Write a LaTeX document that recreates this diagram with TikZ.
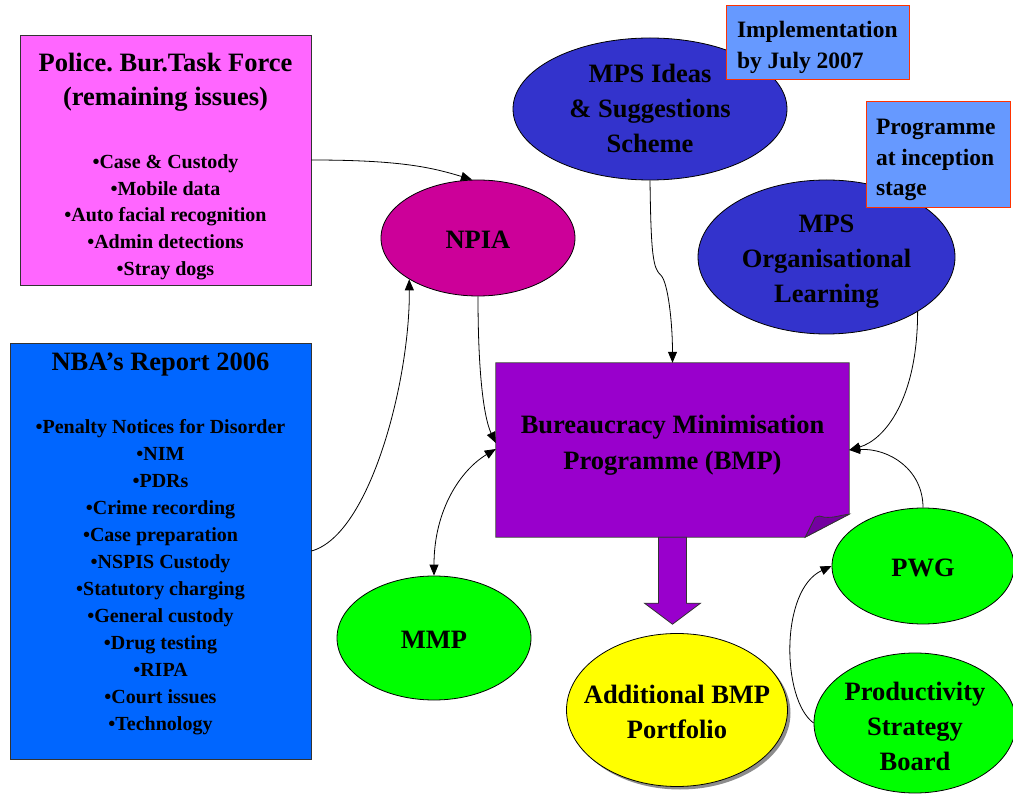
\documentclass[tikz,border=0pt]{standalone}
\usepackage{fontspec}
\setmainfont{Liberation Serif}
\usetikzlibrary{shapes.geometric,arrows.meta,shadows}
\definecolor{pinkc}{HTML}{FF66FF}
\definecolor{bluec}{HTML}{0066FF}
\definecolor{npiac}{HTML}{CC0099}
\definecolor{mpsc}{HTML}{3333CC}
\definecolor{bmpc}{HTML}{9900CC}
\definecolor{foldc}{HTML}{7400A0}
\definecolor{greenc}{HTML}{00FF00}
\definecolor{yellowc}{HTML}{FFFF00}
\definecolor{notec}{HTML}{6699FF}
\definecolor{noteb}{HTML}{FF3300}
\definecolor{edgec}{HTML}{333333}
\newcommand\ztext[2][-3pt]{\raisebox{\dimexpr-0.25em+#1\relax}[0pt][0pt]{\makebox[0pt]{\begin{tabular}{@{}c@{}}#2\end{tabular}}}}
\newcommand\mycpar{\parindent=0pt\parskip=0pt\spaceskip=0pt\xspaceskip=0pt\leftskip=0pt plus 1fil\rightskip=0pt plus 1fil\parfillskip=0pt\relax}
\newcommand\mylpar{\parindent=0pt\parskip=0pt\spaceskip=0pt\xspaceskip=0pt\leftskip=0pt\rightskip=0pt plus 1fil\parfillskip=0pt\relax}
\begin{document}
\frenchspacing
\begin{tikzpicture}[x=1pt,y=-1pt,
  box/.style={draw=edgec, line width=0.8pt, inner sep=0pt},
  oval/.style={ellipse, draw=black, line width=0.8pt, inner sep=0pt,
    font=\fontsize{26.5}{35}\selectfont\bfseries},
  note/.style={rectangle, draw=noteb, line width=1pt, fill=notec, inner xsep=11pt,
    inner ysep=0pt, font=\fontsize{23.5}{30.5}\selectfont\bfseries},
  conn/.style={line width=0.8pt, -{Triangle[length=11pt,width=9pt]}},
  dconn/.style={line width=0.8pt, {Triangle[length=11pt,width=9pt]}-{Triangle[length=11pt,width=9pt]}},
]
\useasboundingbox (0,0) rectangle (1013,794);

% left boxes
\node[box, fill=pinkc, minimum width=291pt, minimum height=250pt, text width=285pt,
  font=\fontsize{26.5}{33.5}\selectfont\bfseries]
  (pink) at (165.5,160) {\mycpar\rule{0pt}{31.4pt}Police. Bur.Task Force\par
  (remaining issues)\par\vspace{36.3pt}{\fontsize{20}{26.7}\selectfont\mycpar •Case \& Custody\par
  •Mobile data\par •Auto facial recognition\par •Admin detections\par •Stray dogs\par}};

\node[box, fill=bluec, minimum width=301pt, minimum height=416pt, text width=295pt,
  font=\fontsize{26.5}{33.5}\selectfont\bfseries]
  (blue) at (160.5,551) {\mycpar NBA’s Report 2006\par\vspace{35.7pt}%
  {\fontsize{20}{27}\selectfont\mycpar •Penalty Notices for Disorder\par •NIM\par •PDRs\par •Crime recording\par
  •Case preparation\par •NSPIS Custody\par •Statutory charging\par •General custody\par
  •Drug testing\par •RIPA\par •Court issues\par •Technology\rule[-18.3pt]{0pt}{18.3pt}\par}};

% BMP box with folded corner
\node[fill=bmpc, minimum width=353pt, minimum height=174pt, inner sep=0pt,
  font=\fontsize{26.5}{36}\selectfont\bfseries] (bmp) at (672.5,450)
  {\ztext[6pt]{Bureaucracy Minimisation\\Programme (BMP)}};
\fill[white] (bmp.south east) -- ([yshift=23pt]bmp.south east) -- ([xshift=-44pt]bmp.south east) -- cycle;
\draw[edgec, line width=0.8pt] (bmp.south west) -- (bmp.north west) -- (bmp.north east)
  -- ([yshift=23pt]bmp.south east) -- ([xshift=-44pt]bmp.south east) -- cycle;
\filldraw[fill=foldc, draw=edgec, line width=0.8pt] ([xshift=-44pt]bmp.south east) -- ++(10,-20)
  .. controls +(3,-2) and +(-4,-1) .. ++(9,0)
  .. controls +(10,1) and +(-10,1) .. ([yshift=23pt]bmp.south east) -- cycle;

% block arrow
\filldraw[fill=bmpc, draw=edgec, line width=0.8pt] ([xshift=-14pt]bmp.south) -- ++(0,66) -- ++(-14,0)
  -- ++(28,21) -- ++(28,-21) -- ++(-14,0) -- ++(0,-66) -- cycle;

% ellipses
\node[oval, fill=npiac, minimum width=194pt, minimum height=116pt] (npia) at (478,238) {\ztext{NPIA}};
\node[oval, fill=mpsc, minimum width=274pt, minimum height=142pt] (ideas) at (650,109)
  {\ztext[-1pt]{MPS Ideas\\\& Suggestions\\Scheme}};
\node[oval, fill=mpsc, minimum width=257pt, minimum height=154pt] (org) at (826.5,257)
  {\ztext[-3.5pt]{MPS\\Organisational\\Learning}};
\node[oval, fill=greenc, minimum width=194pt, minimum height=124pt] (mmp) at (434,638) {\ztext{MMP}};
\node[oval, fill=yellowc, minimum width=221pt, minimum height=153pt,
  drop shadow={shadow xshift=3pt, shadow yshift=-3pt, fill=black!45, opacity=1}] (addl) at (677,710)
  {\ztext[-3.5pt]{Additional BMP\\Portfolio}};
\node[oval, fill=greenc, minimum width=182pt, minimum height=116pt] (pwg) at (923,566) {\ztext[-3.5pt]{PWG}};
\node[oval, fill=greenc, minimum width=202pt, minimum height=140pt] (prod) at (915,723)
  {\ztext[-5pt]{Productivity\\Strategy\\Board}};

% connectors
\draw[conn] (pink.east) .. controls +(90,0) and +(-40,-12) .. ([xshift=-6pt]npia.north);
\draw[conn] (blue.east) .. controls +(59,-16) and +(1,100) .. (npia.211);
\draw[conn] (npia.south) .. controls +(0,84) and +(-11,-23) .. ([yshift=7pt]bmp.west);
\draw[dconn] (mmp.north) .. controls +(0,-66) and +(-35,21) .. ([yshift=1pt]bmp.west);
\draw[conn] (ideas.south) .. controls +(1,75) and +(-8,-7) .. ++(11,95)
  .. controls +(7,7) and +(0,-40) .. (bmp.north);
\draw[conn] (org.329) .. controls +(0,88) and +(35,-10) .. (bmp.east);
\draw[conn] (pwg.north) .. controls +(0,-38) and +(40,-2) .. (bmp.east);
\draw[conn] (prod.west) .. controls +(-32,-23) and +(-52,24) .. (pwg.west);

% notes
\node[note, text width=161pt, minimum width=183pt, minimum height=74pt] (impl) at (817.5,43)
  {\mylpar\rule{0pt}{25pt}Implementation\par by July 2007\par};
\node[note, inner xsep=10pt, text width=124pt, minimum width=144pt, minimum height=106pt] (incep) at (938,155)
  {\mylpar\rule{0pt}{25.4pt}Programme\par at inception\par stage\par};
\end{tikzpicture}
\end{document}
